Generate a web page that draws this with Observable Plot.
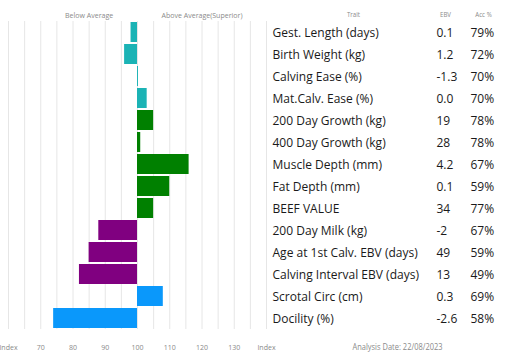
<!DOCTYPE html>
<html>
<head>
<meta charset="utf-8">
<script src="https://cdn.jsdelivr.net/npm/d3@7"></script>
<script src="https://cdn.jsdelivr.net/npm/@observablehq/plot@0.6"></script>
<style>
  html, body { margin: 0; padding: 0; background: #fff; }
  #chart svg { display: block; }
</style>
</head>
<body>
<div id="chart"></div>
<script>
// ---- data ----
const traits = [
  "Gest. Length (days)", "Birth Weight (kg)", "Calving Ease (%)", "Mat.Calv. Ease (%)",
  "200 Day Growth (kg)", "400 Day Growth (kg)", "Muscle Depth (mm)", "Fat Depth (mm)",
  "BEEF VALUE", "200 Day Milk (kg)", "Age at 1st Calv. EBV (days)",
  "Calving Interval EBV (days)", "Scrotal Circ (cm)", "Docility (%)"
];
const indexValues = [98, 96, 100.3, 103, 105, 101, 116, 110, 105, 88, 85, 82, 108, 74];
const ebvValues = ["0.1", "1.2", "-1.3", "0.0", "19", "28", "4.2", "0.1", "34", "-2", "49", "13", "0.3", "-2.6"];
const accValues = ["79%", "72%", "70%", "70%", "78%", "78%", "67%", "59%", "77%", "67%", "59%", "49%", "69%", "58%"];
const groups = ["calving", "calving", "calving", "calving", "growth", "growth", "growth", "growth",
  "growth", "maternal", "maternal", "maternal", "other", "other"];
const groupNames = ["calving", "growth", "maternal", "other"];
const groupColors = ["#1bb3b5", "#008000", "#800080", "#0a98fb"];
const baseline = 100;
const gridTicks = [60, 65, 70, 75, 80, 85, 90, 95, 100, 105, 110, 115, 120, 125, 130, 135, 140];
const labelTicks = [60, 70, 80, 90, 100, 110, 120, 130, 140];
const tickText = ["Index", "70", "80", "90", "100", "110", "120", "130", "Index"];
const headerLeft = [{x: 85, text: "Below Average"}, {x: 120, text: "Above Average(Superior)"}];
const footer = "Analysis Date: 22/08/2023";

const rows = traits.map((t, i) => ({
  trait: t, index: indexValues[i], ebv: ebvValues[i], acc: accValues[i], group: groups[i]
}));

const FONT = "'Open Sans', Lato, sans-serif";
const GREY = "#8a8a8a";

const chart = Plot.plot({
  width: 522,
  height: 362,
  marginLeft: 8,
  marginRight: 256,
  marginTop: 21,
  marginBottom: 33,
  style: {fontFamily: FONT, background: "#fff"},
  x: {domain: [60, 140], axis: null},
  y: {domain: traits, paddingInner: 0.1, paddingOuter: 0.05, axis: null},
  color: {domain: groupNames, range: groupColors},
  marks: [
    Plot.ruleX(gridTicks, {stroke: "#e6e6e6", strokeWidth: 1}),
    Plot.barX(rows, {x1: baseline, x2: "index", y: "trait", fill: "group"}),
    Plot.axisX({
      ticks: labelTicks, tickSize: 0, tickPadding: 15,
      tickFormat: (d) => tickText[labelTicks.indexOf(d)],
      fontSize: 8, fill: GREY, anchor: "bottom"
    }),
    Plot.text(headerLeft, {x: "x", text: "text", frameAnchor: "top", dy: -9, fontSize: 8, fill: GREY, className: "sm"}),
    Plot.text(["Trait"], {frameAnchor: "top-right", textAnchor: "middle", dx: 87, dy: -9.5, fontSize: 7, fill: GREY, className: "sm"}),
    Plot.text(["EBV"], {frameAnchor: "top-right", textAnchor: "middle", dx: 179, dy: -9.5, fontSize: 7, fill: GREY, className: "sm"}),
    Plot.text(["Acc %"], {frameAnchor: "top-right", textAnchor: "middle", dx: 217, dy: -9.5, fontSize: 7, fill: GREY, className: "sm"}),
    Plot.text(rows, {y: "trait", text: "trait", frameAnchor: "right", dx: 6, textAnchor: "start", fontSize: 13, fill: "#1a1a1a", className: "lg"}),
    Plot.text(rows, {y: "trait", text: "ebv", frameAnchor: "right", dx: 170, textAnchor: "start", fontSize: 13, fill: "#1a1a1a", className: "lg"}),
    Plot.text(rows, {y: "trait", text: "acc", frameAnchor: "right", dx: 204, textAnchor: "start", fontSize: 13, fill: "#1a1a1a", className: "lg"}),
    Plot.text([footer], {frameAnchor: "bottom-right", textAnchor: "middle", dx: 131, dy: 20, fontSize: 8.5, fill: GREY, className: "sm"})
  ]
});

document.getElementById("chart").appendChild(chart);
// horizontally condense glyphs to match the reference's narrow lettering
function squeeze(sel, k) {
  chart.querySelectorAll(sel).forEach((t) => {
    const tr = t.getAttribute("transform") || "";
    t.setAttribute("transform", tr + ` scale(${k},1)`);
  });
}
squeeze(".lg text", 0.925);
squeeze(".sm text", 0.88);
squeeze("[aria-label='x-axis tick label'] text", 0.88);
</script>
</body>
</html>
